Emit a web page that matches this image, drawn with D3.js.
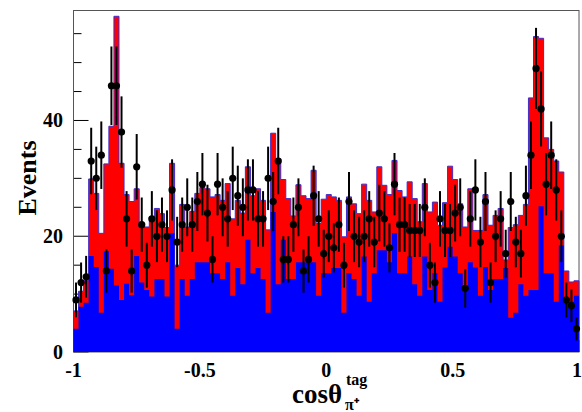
<!DOCTYPE html>
<html>
<head>
<meta charset="utf-8">
<script src="https://cdn.jsdelivr.net/npm/d3@7/dist/d3.min.js"></script>
<style>
  body { margin: 0; background: #fff; }
  text { font-family: "Liberation Serif", "Times New Roman", serif; font-weight: bold; fill: #000; }
</style>
</head>
<body>
<script>
// 100 bins in cos(theta) from -1 to 1
var xRange = [-1, 1];
var nBins = 100;

// blue component (stacked at the bottom)
var blueCounts = [
  4.0, 7.8, 8.5, 16.6, 14.7, 6.8, 17.4, 14.4, 11.5, 9.0,
  11.8, 9.8, 16.6, 12.0, 10.7, 9.6, 12.6, 12.6, 9.6, 20.5,
  4.0, 12.6, 9.7, 12.6, 15.5, 15.5, 15.5, 13.6, 13.6, 12.6,
  15.5, 9.7, 14.5, 11.7, 19.4, 13.6, 14.5, 12.6, 6.8, 24.2,
  11.7, 19.4, 12.6, 12.6, 15.5, 15.5, 15.5, 15.5, 9.7, 13.6,
  13.6, 14.5, 14.5, 6.8, 13.6, 12.6, 9.7, 16.5, 8.7, 13.6,
  17.6, 17.6, 15.5, 20.5, 13.6, 13.6, 16.5, 11.7, 9.7, 16.5,
  10.7, 13.6, 8.7, 14.6, 18.2, 16.5, 13.6, 10.5, 15.5, 14.6,
  9.7, 14.7, 10.7, 12.6, 12.6, 14.5, 5.9, 6.8, 11.7, 9.7,
  10.7, 10.7, 25.2, 13.6, 13.6, 8.7, 18.4, 8.7, 8.7, 9.7
];

// red + blue total
var totalCounts = [
  7.1, 10.5, 12.4, 29.9, 27.4, 20.5, 32.5, 39.0, 58.0, 32.6,
  27.2, 26.0, 28.2, 21.6, 21.6, 23.3, 24.8, 23.9, 21.5, 32.6,
  15.0, 25.5, 21.6, 24.3, 27.4, 28.4, 28.2, 26.8, 27.2, 26.2,
  29.1, 23.0, 26.2, 24.0, 32.0, 27.0, 28.2, 26.2, 21.1, 37.8,
  33.4, 29.8, 26.5, 23.5, 28.9, 27.0, 26.5, 31.4, 22.2, 26.4,
  27.2, 26.8, 26.2, 19.9, 26.8, 25.6, 23.9, 29.0, 26.2, 24.2,
  32.0, 28.8, 27.2, 33.1, 27.9, 26.8, 29.4, 26.5, 22.5, 29.1,
  24.2, 25.9, 21.9, 25.8, 32.1, 29.8, 25.6, 21.6, 28.2, 21.0,
  21.0, 27.2, 21.9, 23.6, 24.8, 15.9, 21.5, 22.0, 23.6, 25.5,
  43.9, 54.5, 54.2, 37.0, 35.0, 33.0, 31.1, 14.0, 12.1, 12.3
];

// data points (errors are sqrt(N))
var dataCounts = [
  9, 12, 13, 33, 30, 34, 14, 46, 46, 38,
  23, 14, 32, 22, 15, 23, 20, 22, 20, 28,
  19, 22, 25, 22, 26, 29, 24, 16, 29, 25,
  23, 30, 27, 25, 28, 28, 23, 23, 30, 26,
  33, 16, 16, 22, 25, 14, 16, 27, 23, 17,
  20, 18, 22, 15, 26, 20, 19, 20, 23, 19,
  24, 23, 18, 29, 22, 22, 21, 21, 21, 25,
  15, 12, 23, 21, 21, 24, 25, 11, 23, 28,
  19, 26, 12, 20, 23, 17, 26, 19, 17, 27,
  34, 49, 42, 29, 34, 28, 20, 9, 8, 4
];

var yTickLabels = [0, 20, 40];
var xTickLabels = [-1, -0.5, 0, 0.5, 1];

var width = 582, height = 412;
var padL = 73.5, padR = 579, padT = 10.5, padB = 352;
var binW = (xRange[1] - xRange[0]) / nBins;

var x = d3.scaleLinear().domain(xRange).range([padL, padR]);
var y = d3.scaleLinear().domain([0, 59]).range([padB, padT]);

var svg = d3.select('body').append('svg')
  .attr('width', width)
  .attr('height', height);

// frame and ticks first, histograms paint over them (as ROOT does)
var yMinor = d3.range(0, 60, 5);
svg.append('g').selectAll('line').data(yMinor).enter().append('line')
  .attr('x1', padL).attr('x2', function(d) { return padL + (d % 20 === 0 ? 15 : 8); })
  .attr('y1', function(d) { return y(d); }).attr('y2', function(d) { return y(d); })
  .attr('stroke', '#000').attr('stroke-width', 1);

var xMinor = d3.range(-1, 1.0001, 0.1);
svg.append('g').selectAll('line').data(xMinor).enter().append('line')
  .attr('x1', function(d) { return x(d); }).attr('x2', function(d) { return x(d); })
  .attr('y1', padB).attr('y2', function(d) { return padB - (Math.abs(d * 2 - Math.round(d * 2)) < 1e-6 ? 12 : 6); })
  .attr('stroke', '#000').attr('stroke-width', 1);

svg.append('rect')
  .attr('x', padL).attr('y', padT)
  .attr('width', padR - padL).attr('height', padB - padT)
  .attr('fill', 'none').attr('stroke', '#555').attr('stroke-width', 1);

function steps(counts) {
  var pts = [];
  counts.forEach(function(c, i) {
    var lo = xRange[0] + i * binW;
    pts.push([lo, c]);
    pts.push([lo + binW, c]);
  });
  return pts;
}

var area = d3.area()
  .x(function(d) { return x(d[0]); })
  .y0(y(0))
  .y1(function(d) { return y(d[1]); });

var line = d3.line()
  .x(function(d) { return x(d[0]); })
  .y(function(d) { return y(d[1]); });

var totalPts = steps(totalCounts);
svg.append('path')
  .datum(totalPts)
  .attr('d', area)
  .attr('fill', '#ff0000');
svg.append('path')
  .datum([[xRange[0], 0]].concat(totalPts).concat([[xRange[1], 0]]))
  .attr('d', line)
  .attr('fill', 'none')
  .attr('stroke', '#3a2fd0')
  .attr('stroke-width', 1);

svg.append('path')
  .datum(steps(blueCounts))
  .attr('d', area)
  .attr('fill', '#0000ff');

// data points with error bars
var pts = svg.append('g').selectAll('g').data(dataCounts).enter().append('g');
pts.append('line')
  .attr('x1', function(d, i) { return x(xRange[0] + (i + 0.5) * binW); })
  .attr('x2', function(d, i) { return x(xRange[0] + (i + 0.5) * binW); })
  .attr('y1', function(d) { return y(d - Math.sqrt(d)); })
  .attr('y2', function(d) { return y(d + Math.sqrt(d)); })
  .attr('stroke', '#000')
  .attr('stroke-width', 2);
pts.append('circle')
  .attr('cx', function(d, i) { return x(xRange[0] + (i + 0.5) * binW); })
  .attr('cy', function(d) { return y(d); })
  .attr('r', 3.6)
  .attr('fill', '#000');

// axis labels
svg.append('g').selectAll('text').data(yTickLabels).enter().append('text')
  .attr('x', 63)
  .attr('y', function(d) { return y(d); })
  .attr('dy', '0.35em')
  .attr('text-anchor', 'end')
  .attr('font-size', 20)
  .text(function(d) { return d; });

svg.append('g').selectAll('text').data(xTickLabels).enter().append('text')
  .attr('x', function(d) { return x(d); })
  .attr('dx', function(d, i) { return i === xTickLabels.length - 1 ? -2 : 0; })
  .attr('y', 377)
  .attr('text-anchor', 'middle')
  .attr('font-size', 20)
  .text(function(d) { return d; });

svg.append('text')
  .attr('transform', 'translate(36,178) rotate(-90)')
  .attr('text-anchor', 'middle')
  .attr('font-size', 26)
  .text('Events');

var xt = svg.append('g');
xt.append('text')
  .attr('x', 292).attr('y', 403)
  .attr('font-size', 27)
  .text('cosθ');
xt.append('text')
  .attr('x', 346).attr('y', 385)
  .attr('font-size', 16)
  .text('tag');
xt.append('text')
  .attr('x', 345).attr('y', 410)
  .attr('font-size', 16)
  .text('π⁺');
</script>
</body>
</html>
